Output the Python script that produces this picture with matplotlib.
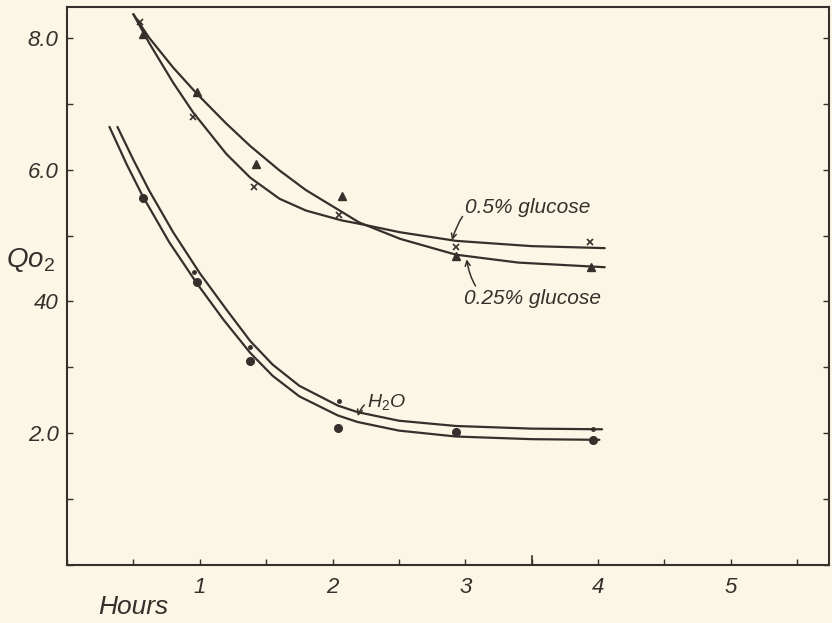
import matplotlib
matplotlib.use('Agg')
import matplotlib.pyplot as plt
from matplotlib.ticker import MultipleLocator, FixedLocator, FixedFormatter

INK = '#35302b'
PAPER = '#fcf6e7'
HAND = ['Liberation Sans', 'DejaVu Sans']

plt.rcParams['mathtext.fontset'] = 'custom'
plt.rcParams['mathtext.rm'] = 'Liberation Sans'
plt.rcParams['mathtext.it'] = 'Liberation Sans:italic'

# measured points, 0.25% glucose (triangles)
hours_025 = [0.57, 0.98, 1.42, 2.07, 2.93, 3.95]
qo2_025 = [8.06, 7.18, 6.08, 5.60, 4.69, 4.52]

# measured points, 0.5% glucose (crosses)
hours_05 = [0.55, 0.95, 1.41, 2.05, 2.93, 3.94]
qo2_05 = [8.24, 6.80, 5.74, 5.32, 4.83, 4.90]

# H2O, large dots and small dots
hours_h2o_a = [0.57, 0.98, 1.38, 2.04, 2.93, 3.96]
qo2_h2o_a = [5.57, 4.29, 3.10, 2.08, 2.02, 1.90]
hours_h2o_b = [0.96, 1.38, 2.05, 3.96]
qo2_h2o_b = [4.45, 3.31, 2.49, 2.06]

# hand drawn curves
curve_025_x = [0.50, 0.62, 0.80, 0.98, 1.20, 1.38, 1.60, 1.80, 2.07, 2.20, 2.51, 2.93, 3.40, 4.05]
curve_025_y = [8.36, 8.00, 7.55, 7.15, 6.70, 6.36, 5.99, 5.69, 5.36, 5.20, 4.95, 4.71, 4.59, 4.52]
curve_05_x = [0.50, 0.62, 0.80, 0.95, 1.20, 1.38, 1.60, 1.80, 2.07, 2.20, 2.51, 2.93, 3.50, 4.05]
curve_05_y = [8.36, 7.92, 7.32, 6.87, 6.24, 5.88, 5.56, 5.38, 5.23, 5.18, 5.05, 4.92, 4.84, 4.81]
curve_h2o_a_x = [0.32, 0.45, 0.57, 0.77, 0.98, 1.18, 1.38, 1.55, 1.75, 2.04, 2.19, 2.50, 2.93, 3.50, 4.01]
curve_h2o_a_y = [6.65, 6.08, 5.60, 4.90, 4.27, 3.72, 3.22, 2.87, 2.56, 2.27, 2.17, 2.04, 1.95, 1.91, 1.90]
curve_h2o_b_x = [0.38, 0.50, 0.62, 0.80, 1.00, 1.20, 1.38, 1.55, 1.75, 2.04, 2.19, 2.50, 2.93, 3.50, 4.03]
curve_h2o_b_y = [6.65, 6.15, 5.68, 5.05, 4.43, 3.88, 3.40, 3.04, 2.72, 2.42, 2.32, 2.19, 2.11, 2.07, 2.06]

y_ticks = [2, 4, 6, 8]
y_labels = ['2.0', '40', '6.0', '8.0']
x_ticks = [1, 2, 3, 4, 5]
x_labels = ['1', '2', '3', '4', '5']

fig = plt.figure(figsize=(8.32, 6.23), dpi=100, facecolor=PAPER)
ax = fig.add_axes([0.0805, 0.0931, 0.916, 0.8957], facecolor=PAPER)

lw = 1.6
for cx, cy in [(curve_025_x, curve_025_y), (curve_05_x, curve_05_y),
               (curve_h2o_a_x, curve_h2o_a_y), (curve_h2o_b_x, curve_h2o_b_y)]:
    ax.plot(cx, cy, color=INK, lw=lw, solid_capstyle='round', solid_joinstyle='round')

ax.plot(hours_025, qo2_025, ls='none', marker='^', ms=6, color=INK)
ax.plot(hours_05, qo2_05, ls='none', marker='x', ms=4, mew=1.2, color=INK)
ax.plot(hours_h2o_a, qo2_h2o_a, ls='none', marker='o', ms=5.5, color=INK)
ax.plot(hours_h2o_b, qo2_h2o_b, ls='none', marker='o', ms=2.5, color=INK)

# labels with little hooked arrows
arrow = dict(arrowstyle='->', color=INK, lw=1.1, shrinkA=0, shrinkB=0, mutation_scale=9)
ax.annotate('0.5% glucose', xy=(2.90, 4.93), xytext=(3.0, 5.43), fontsize=15,
            style='italic', color=INK, family=HAND, va='center', ha='left',
            arrowprops=dict(arrow, connectionstyle='arc3,rad=0.6'))
ax.annotate('0.25% glucose', xy=(3.01, 4.64), xytext=(2.99, 4.05), fontsize=15,
            style='italic', color=INK, family=HAND, va='center', ha='left',
            arrowprops=dict(arrow, connectionstyle='arc3,rad=-0.6'))
ax.annotate('H$_2$O', xy=(2.19, 2.26), xytext=(2.26, 2.47), fontsize=14,
            style='italic', color=INK, family=HAND, va='center', ha='left',
            arrowprops=dict(arrow, connectionstyle='arc3,rad=0.5'))

ax.set_xlim(0, 5.74)
ax.set_ylim(0, 8.47)

ax.xaxis.set_major_locator(FixedLocator(x_ticks))
ax.xaxis.set_major_formatter(FixedFormatter(x_labels))
ax.xaxis.set_minor_locator(MultipleLocator(0.5))
ax.yaxis.set_major_locator(FixedLocator(y_ticks))
ax.yaxis.set_major_formatter(FixedFormatter(y_labels))
ax.yaxis.set_minor_locator(MultipleLocator(1))

ax.tick_params(axis='both', which='both', direction='in', color=INK, width=1.0,
               length=4, labelcolor=INK)
ax.tick_params(axis='y', which='both', right=True)
ax.tick_params(axis='x', pad=9)
ax.tick_params(axis='y', pad=6)
for lab in ax.get_xticklabels() + ax.get_yticklabels():
    lab.set_fontstyle('italic')
    lab.set_fontsize(16)
    lab.set_family(HAND)

# stray longer tick mark near 3.5 h
ax.axvline(3.5, ymin=0, ymax=0.016, color=INK, lw=1.2)

for sp in ax.spines.values():
    sp.set_color(INK)
    sp.set_linewidth(1.5)

fig.text(0.036, 0.583, 'Q$o_2$', fontsize=20, style='italic', color=INK,
         family=HAND, ha='center', va='center')
fig.text(0.16, 0.026, 'Hours', fontsize=19, style='italic', color=INK,
         family=HAND, ha='center', va='center')

fig.savefig('out.png', dpi=100, facecolor=PAPER)
